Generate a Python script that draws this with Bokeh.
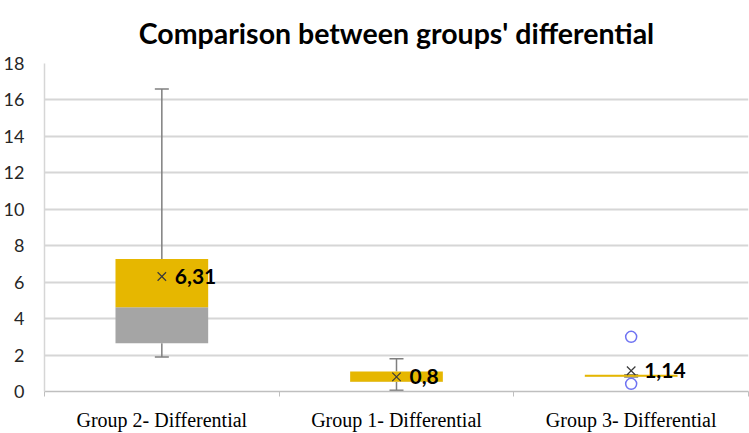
import numpy as np
from bokeh.plotting import figure
from bokeh.models import FixedTicker, Range1d, ColumnDataSource
from bokeh.core.properties import value
from bokeh.embed import file_html
from bokeh.resources import INLINE

# ---- data ----
categories = ["Group 2- Differential", "Group 1- Differential", "Group 3- Differential"]
whisker_low = [1.9, 0.07, 0.8]
q1 = [2.65, 0.52, 0.8]
median = [4.62, 0.53, 0.81]
q3 = [7.27, 1.1, 0.92]
whisker_high = [16.6, 1.8, 0.92]
means = [6.31, 0.8, 1.14]
mean_labels = ["6,31", "0,8", "1,14"]
outlier_group = ["Group 3- Differential", "Group 3- Differential"]
outlier_values = [3.0, 0.42]
y_ticks = [0, 2, 4, 6, 8, 10, 12, 14, 16, 18]

YELLOW = "#E6B700"
GRAY = "#A5A5A5"

xpos = [i + 0.5 for i in range(len(categories))]
pos_of = dict(zip(categories, xpos))

src = ColumnDataSource(dict(
    x=xpos, wl=whisker_low, q1=q1, med=median, q3=q3, wh=whisker_high,
    mean=means, lab=mean_labels,
))

p = figure(width=749, height=433, output_backend="svg", toolbar_location=None,
           x_range=Range1d(0, 3), y_range=Range1d(0, 18),
           min_border_left=42, min_border_right=1, min_border_bottom=3, min_border_top=4)
p.outline_line_color = None
p.background_fill_color = "white"
p.border_fill_color = "white"

p.title.text = "Comparison between groups' differential"
p.title.align = "center"
p.title.text_font = "Lato"
p.title.text_font_size = "28.5px"
p.title.text_font_style = "bold"
p.title.text_color = "#000000"
p.title.standoff = 27

# grid
p.xgrid.grid_line_color = None
p.ygrid.grid_line_color = "#D6D6D6"
p.ygrid.grid_line_width = 1.8

# y axis
p.yaxis.ticker = FixedTicker(ticks=y_ticks)
p.yaxis.axis_line_color = "#D6D6D6"
p.yaxis.axis_line_width = 1.5
p.yaxis.major_tick_line_color = None
p.yaxis.minor_tick_line_color = None
p.yaxis.major_label_text_font = "Lato"
p.yaxis.major_label_text_font_size = "18px"
p.yaxis.major_label_text_color = "#262626"
p.yaxis.major_label_standoff = 14

# x axis
p.xaxis.ticker = FixedTicker(ticks=xpos, minor_ticks=[0, 1, 2, 3])
p.xaxis.major_label_overrides = {x: c for x, c in zip(xpos, categories)}
p.xaxis.axis_line_color = "#BFBFBF"
p.xaxis.axis_line_width = 1.5
p.xaxis.major_tick_line_color = None
p.xaxis.minor_tick_line_color = "#BFBFBF"
p.xaxis.minor_tick_out = 5
p.xaxis.minor_tick_in = 0
p.xaxis.major_label_text_font = "Liberation Serif"
p.xaxis.major_label_text_font_size = "20px"
p.xaxis.major_label_text_color = "#000000"
p.xaxis.major_label_standoff = 11

# whiskers
p.segment(x0="x", y0="wl", x1="x", y1="q1", source=src, line_color="#7F7F7F", line_width=1.5)
p.segment(x0="x", y0="q3", x1="x", y1="wh", source=src, line_color="#7F7F7F", line_width=1.5)
p.scatter(x="x", y="wl", source=src, marker="dash", size=14, line_color="#7F7F7F", line_width=1.5)
p.scatter(x="x", y="wh", source=src, marker="dash", size=14, line_color="#7F7F7F", line_width=1.5)

# boxes
p.vbar(x="x", width=0.395, bottom="q1", top="med", source=src, fill_color=GRAY, line_color=None)
p.vbar(x="x", width=0.395, bottom="med", top="q3", source=src, fill_color=YELLOW, line_color=None)

# means
p.scatter(x="x", y="mean", source=src, marker="x", size=12, line_color="#3A3A3A", line_width=1.2)
p.text(x="x", y="mean", text="lab", source=src, x_offset=13, text_baseline="middle",
       text_font=value("Lato"), text_font_style="bold", text_font_size="21px", text_color="#000000")

# outliers
p.scatter(x=[pos_of[g] for g in outlier_group], y=outlier_values, marker="circle", size=11,
          fill_color=None, line_color="#6F73F2", line_width=1.5)

open("out.html", "w").write(file_html(p, INLINE))
